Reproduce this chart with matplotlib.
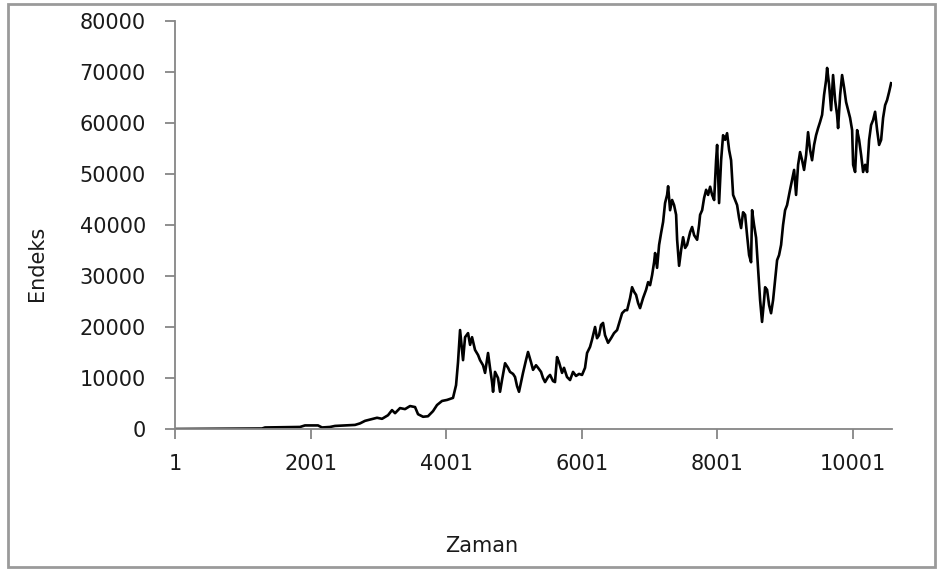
import matplotlib as mpl
mpl.use('Agg')
import matplotlib.pyplot as plt
from matplotlib.patches import Rectangle

# values (day index, index level)
zaman = [1, 1285, 1330, 1846, 1919, 2111, 2170, 2288, 2362, 2657, 2731, 2805,
         2982, 3056, 3144, 3203, 3248, 3321, 3395, 3469, 3543, 3587, 3661, 3734,
         3808, 3867, 3941, 4015, 4103, 4148, 4177, 4207, 4229, 4251, 4281, 4325,
         4355, 4384, 4428, 4473, 4502, 4546, 4576, 4620, 4649, 4679, 4694, 4723,
         4767, 4797, 4826, 4871, 4915, 4944, 4989, 5018, 5048, 5077, 5107, 5136,
         5180, 5210, 5254, 5284, 5328, 5358, 5402, 5431, 5461, 5505, 5535, 5579,
         5608, 5638, 5667, 5712, 5741, 5785, 5830, 5874, 5918, 5963, 6007, 6051,
         6081, 6125, 6154, 6199, 6228, 6258, 6287, 6317, 6346, 6391, 6435, 6479,
         6524, 6568, 6598, 6642, 6672, 6716, 6745, 6775, 6804, 6834, 6863, 6908,
         6952, 6982, 7011, 7041, 7070, 7085, 7114, 7144, 7173, 7203, 7232, 7262,
         7277, 7306, 7336, 7365, 7395, 7410, 7439, 7469, 7498, 7528, 7557, 7602,
         7631, 7661, 7705, 7734, 7749, 7779, 7808, 7838, 7867, 7897, 7926, 7956,
         7985, 8000, 8029, 8059, 8088, 8118, 8147, 8177, 8206, 8236, 8265, 8295,
         8324, 8354, 8383, 8413, 8442, 8472, 8501, 8516, 8545, 8575, 8604, 8634,
         8663, 8693, 8708, 8737, 8767, 8796, 8826, 8855, 8885, 8914, 8944, 8973,
         9003, 9032, 9076, 9106, 9136, 9165, 9195, 9224, 9254, 9283, 9313, 9342,
         9372, 9401, 9431, 9460, 9490, 9519, 9549, 9578, 9608, 9623, 9652, 9682,
         9711, 9741, 9770, 9785, 9815, 9844, 9874, 9903, 9933, 9962, 9992, 10007,
         10036, 10066, 10095, 10125, 10154, 10184, 10213, 10243, 10272, 10302,
         10331, 10361, 10390, 10420, 10449, 10479, 10508, 10538, 10567]

endeks = [0, 100, 300, 400, 700, 700, 300, 400, 600, 800, 1100, 1600,
          2200, 2000, 2700, 3700, 3100, 4100, 3900, 4500, 4300, 2900, 2400, 2500,
          3500, 4700, 5500, 5700, 6100, 8600, 13100, 19400, 16500, 13500, 18000, 18800,
          16500, 18000, 15500, 14500, 13500, 12500, 11000, 14900, 12000, 9200, 7300, 11200,
          10000, 7300, 9600, 12900, 12000, 11200, 10800, 10200, 8400, 7300, 9200, 11000,
          13500, 15100, 13100, 11600, 12500, 12000, 11200, 10000, 9200, 10200, 10600, 9400,
          9200, 14100, 13100, 11000, 12000, 10200, 9600, 11200, 10400, 10800, 10600, 12000,
          14900, 16100, 17500, 20000, 17800, 18400, 20400, 20800, 18400, 16900, 17800, 18800,
          19400, 21400, 22700, 23300, 23300, 25700, 27800, 26900, 26300, 24700, 23700, 25700,
          27300, 28800, 28200, 30200, 32700, 34500, 31600, 36100, 38400, 40600, 44300, 45900,
          47600, 42900, 44900, 43900, 42000, 37100, 32000, 35100, 37600, 35500, 36100, 38600,
          39600, 38000, 37100, 40000, 42000, 42900, 45300, 46900, 45900, 47500, 45900, 44900,
          52700, 55700, 44300, 52700, 57600, 56700, 58000, 54700, 52700, 45900, 44900, 43900,
          41400, 39400, 42500, 42000, 38000, 34100, 32700, 42900, 40000, 37500, 31600, 25300,
          21000, 25300, 27800, 27300, 24300, 22700, 25300, 29200, 33100, 34100, 36100, 40000,
          42900, 43900, 46900, 48800, 50800, 45900, 51800, 54300, 52700, 50800, 53700, 58200,
          54700, 52700, 55700, 57600, 59000, 60200, 61600, 65500, 68400, 70800, 67500, 62500,
          69400, 64500, 61600, 59000, 65500, 69400, 66900, 64100, 62500, 61000, 58600, 51800,
          50400, 58600, 56700, 53700, 50400, 51800, 50400, 56700, 59600, 60600,
          62200, 58600, 55700, 56700, 61000, 63500, 64500, 66100, 67800]

x_ticks = [1, 2001, 4001, 6001, 8001, 10001]
y_ticks = [0, 10000, 20000, 30000, 40000, 50000, 60000, 70000, 80000]

W, H = 943, 570
fig = plt.figure(figsize=(W / 100, H / 100), dpi=100)
ax = fig.add_axes([175 / W, 1 - 429 / H, (891.7 - 175) / W, (429 - 21) / H])

ax.plot(zaman, endeks, color='black', lw=1.9)

ax.set_xlim(1, 10576)
ax.set_ylim(0, 80000)
ax.set_xticks(x_ticks)
ax.set_yticks(y_ticks)
ax.set_xticklabels([str(t) for t in x_ticks])
ax.set_yticklabels([str(t) for t in y_ticks])

axis_grey = '#868686'
for side in ('top', 'right'):
    ax.spines[side].set_visible(False)
for side in ('left', 'bottom'):
    ax.spines[side].set_color(axis_grey)
    ax.spines[side].set_linewidth(1.3)
ax.tick_params(axis='both', direction='out', length=7, width=1.3,
               color=axis_grey, labelcolor='#1a1a1a', labelsize=15)
ax.tick_params(axis='y', pad=14)
ax.tick_params(axis='x', pad=11)

fig.text(482 / W, 1 - 546 / H, 'Zaman', ha='center', va='center',
         fontsize=15, color='#1a1a1a')
fig.text(37 / W, 1 - 263 / H, 'Endeks', ha='center', va='center',
         rotation=90, fontsize=15, color='#1a1a1a')

# outer chart border
fig.patches.append(Rectangle((8 / W, 1 - 567 / H), 927 / W, 563 / H,
                             transform=fig.transFigure, fill=False,
                             edgecolor='#9a9a9a', lw=2))

fig.savefig('out.png', dpi=100)
